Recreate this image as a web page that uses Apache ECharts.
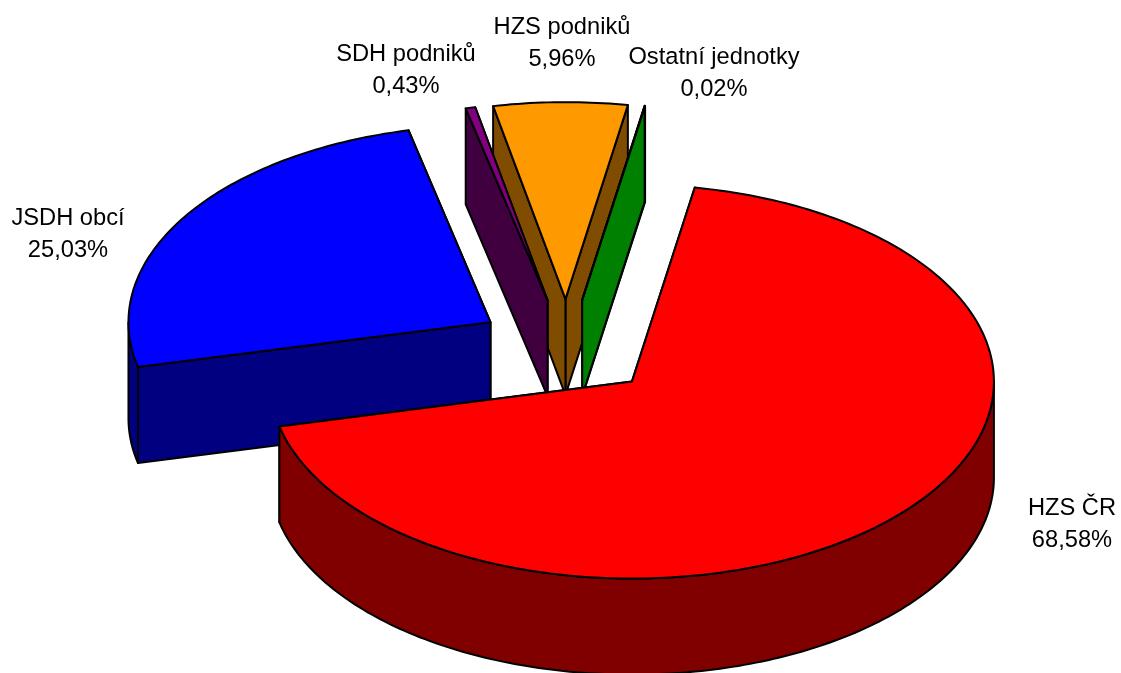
<!DOCTYPE html>
<html>
<head>
<meta charset="utf-8">
<style>html,body{margin:0;padding:0;background:#fff}#c{width:1121px;height:673px}</style>
<script src="https://cdn.jsdelivr.net/npm/echarts@6/dist/echarts.min.js"></script>
</head>
<body>
<div id="c"></div>
<script>
const categories = ['HZS ČR', 'JSDH obcí', 'SDH podniků', 'HZS podniků', 'Ostatní jednotky'];
const shares = [68.58, 25.03, 0.43, 5.96, 0.02];
const topColors = ['#FF0000', '#0000FF', '#800080', '#FF9900', '#00FF00'];
const wallColors = ['#800000', '#000080', '#400040', '#804D00', '#008000'];
const paintOrder = [1, 3, 2, 4, 0];
const labelCentres = [[1072, 524.5], [68, 234.5], [406, 70.5], [562, 43.5], [714, 73.5]];
const pieLayout = { cx: 566.7, cy: 348, rx: 362, ry: 197, depth: 96, explode: 0.248, startAngle: 10 };

const total = shares.reduce((a, b) => a + b, 0);
const starts = [];
shares.reduce((acc, v, i) => { starts[i] = acc; return acc + v / total * 360; }, pieLayout.startAngle);

const rows = paintOrder.map(i => [i, shares[i], starts[i]]);

function renderSlice(params, api) {
  const idx = api.value(0);
  const sweep = api.value(1) / total * 360;
  const a0 = api.value(2);
  const a1 = a0 + sweep;
  const L = pieLayout;
  const rad = d => d * Math.PI / 180;
  const mid = rad(a0 + sweep / 2);
  const ox = L.cx + L.explode * L.rx * Math.sin(mid);
  const oy = L.cy - L.explode * L.ry * Math.cos(mid);
  const rim = d => [ox + L.rx * Math.sin(rad(d)), oy - L.ry * Math.cos(rad(d))];
  const drop = p => [p[0], p[1] + L.depth];
  const arc = (from, to) => {
    const n = Math.max(1, Math.ceil(Math.abs(to - from)));
    const out = [];
    for (let k = 0; k <= n; k++) out.push(rim(from + (to - from) * k / n));
    return out;
  };
  const apex = [ox, oy];
  const stroke = { stroke: '#000', lineWidth: 2, lineJoin: 'round' };
  const poly = (points, fill) => ({ type: 'polygon', shape: { points }, style: Object.assign({ fill }, stroke) });
  const wall = d => poly([apex, rim(d), drop(rim(d)), drop(apex)], wallColors[idx]);

  const children = [wall(a1)];
  // the outer rim wall exists only along the front half of the ellipse
  const f0 = Math.max(a0, 90), f1 = Math.min(a1, 270);
  if (f1 > f0) {
    const top = arc(f0, f1);
    children.push(poly(top.concat(top.map(drop).reverse()), wallColors[idx]));
  }
  children.push(wall(a0));
  children.push(poly([apex].concat(arc(a0, a1)), topColors[idx]));
  return { type: 'group', children };
}

function renderLabel(params, api) {
  const idx = api.value(0);
  const c = labelCentres[idx];
  return {
    type: 'text',
    style: {
      text: categories[idx] + '\n' + api.value(1).toFixed(2).replace('.', ',') + '%',
      x: c[0], y: c[1], textAlign: 'center', textVerticalAlign: 'middle',
      fill: '#000', font: '23.7px "Liberation Sans", Arial, sans-serif', lineHeight: 32
    }
  };
}

const chart = echarts.init(document.getElementById('c'), null, { renderer: 'canvas' });
chart.setOption({
  backgroundColor: '#fff',
  animation: false,
  series: [
    { type: 'custom', coordinateSystem: 'none', renderItem: renderSlice, data: rows, silent: true, z: 2 },
    { type: 'custom', coordinateSystem: 'none', renderItem: renderLabel, data: rows, silent: true, z: 3 }
  ]
});
</script>
</body>
</html>
